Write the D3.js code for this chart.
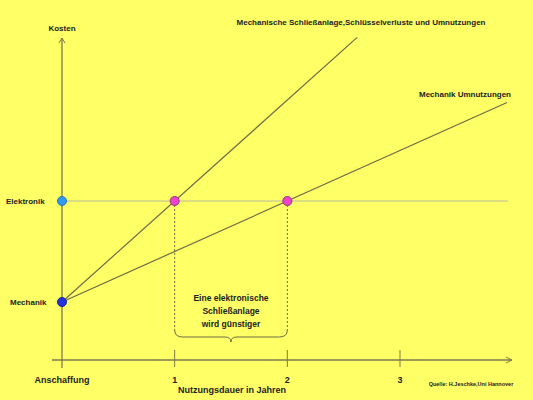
<!DOCTYPE html><html><head><meta charset="utf-8"><script src="https://cdn.jsdelivr.net/npm/d3@7"></script>
<style>body{margin:0;background:#ffff66}text{font-family:"Liberation Sans",Arial,sans-serif;font-weight:bold;fill:#222}</style></head><body><script>
const yearTicks=[0,1,2,3];
const yearLabels=["Anschaffung","1","2","3"];
const costLevels={Mechanik:0.58,Elektronik:1.59};
const seriesNames=["Mechanische Schließanlage,Schlüsselverluste und Umnutzungen","Mechanik Umnutzungen"];
const seriesSlopes=[1.01,0.505];
const seriesEnd=[2.62,3.95];
const W=533,H=400;
const x=d3.scaleLinear().domain([0,3]).range([62,400]);
const y=d3.scaleLinear().domain([0,3.22]).range([360,38]);
const svg=d3.select("body").append("svg").attr("width",W).attr("height",H);
svg.append("rect").attr("width",W).attr("height",H).attr("fill","#ffff66");
const ax="#7d7a50";
// horizontal Elektronik line
svg.append("line").attr("x1",x(0)).attr("x2",508).attr("y1",y(costLevels.Elektronik)).attr("y2",y(costLevels.Elektronik)).attr("stroke","#b8b8a0").attr("stroke-width",1);
// axes
svg.append("line").attr("x1",x(0)).attr("x2",x(0)).attr("y1",368).attr("y2",y(3.22)).attr("stroke",ax).attr("stroke-width",1.3);
svg.append("path").attr("d",`M${x(0)-3},${y(3.22)+5}L${x(0)},${y(3.22)}L${x(0)+3},${y(3.22)+5}`).attr("fill","none").attr("stroke",ax);
svg.append("line").attr("x1",52).attr("x2",512).attr("y1",y(0)).attr("y2",y(0)).attr("stroke",ax).attr("stroke-width",1.3);
svg.append("path").attr("d",`M506,${y(0)-3}L512,${y(0)}L506,${y(0)+3}`).attr("fill","none").attr("stroke",ax);
yearTicks.slice(1).forEach(t=>svg.append("line").attr("x1",x(t)).attr("x2",x(t)).attr("y1",y(0)-10).attr("y2",y(0)+7).attr("stroke",ax));
yearTicks.forEach((t,i)=>svg.append("text").attr("x",x(t)).attr("y",383).attr("text-anchor","middle").attr("font-size",9).text(yearLabels[i]));
svg.append("text").attr("x",232).attr("y",393).attr("text-anchor","middle").attr("font-size",9).text("Nutzungsdauer in Jahren");
svg.append("text").attr("x",62).attr("y",31).attr("text-anchor","middle").attr("font-size",8).text("Kosten");
svg.append("text").attr("x",471).attr("y",386).attr("text-anchor","middle").attr("font-size",5.5).text("Quelle: H.Jeschke,Uni Hannover");
// series lines
seriesSlopes.forEach((s,i)=>{
 svg.append("line").attr("x1",x(0)).attr("y1",y(costLevels.Mechanik)).attr("x2",x(seriesEnd[i])).attr("y2",y(costLevels.Mechanik+s*seriesEnd[i])).attr("stroke","#6e6c48").attr("stroke-width",1.2);
});
svg.append("text").attr("x",361).attr("y",25).attr("text-anchor","middle").attr("font-size",8).text(seriesNames[0]);
svg.append("text").attr("x",465).attr("y",97).attr("text-anchor","middle").attr("font-size",8).text(seriesNames[1]);
// intersections
const inter=seriesSlopes.map(s=>(costLevels.Elektronik-costLevels.Mechanik)/s);
inter.forEach(t=>{
 svg.append("line").attr("x1",x(t)).attr("x2",x(t)).attr("y1",y(costLevels.Elektronik)).attr("y2",330).attr("stroke","#6e6c48").attr("stroke-dasharray","2,2");
});
svg.append("path").attr("d",`M${x(inter[0])},330 Q${x(inter[0])},337 ${x(inter[0])+8},337 L${(x(inter[0])+x(inter[1]))/2-6},337 Q${(x(inter[0])+x(inter[1]))/2},337 ${(x(inter[0])+x(inter[1]))/2},342 Q${(x(inter[0])+x(inter[1]))/2},337 ${(x(inter[0])+x(inter[1]))/2+6},337 L${x(inter[1])-8},337 Q${x(inter[1])},337 ${x(inter[1])},330`).attr("fill","none").attr("stroke","#6e6c48");
["Eine elektronische","Schließanlage","wird günstiger"].forEach((l,i)=>svg.append("text").attr("x",(x(inter[0])+x(inter[1]))/2).attr("y",301+i*13).attr("text-anchor","middle").attr("font-size",8.5).text(l));
inter.forEach(t=>svg.append("circle").attr("cx",x(t)).attr("cy",y(costLevels.Elektronik)).attr("r",4.5).attr("fill","#ee44cc").attr("stroke","#a03080"));
svg.append("circle").attr("cx",x(0)).attr("cy",y(costLevels.Elektronik)).attr("r",4.5).attr("fill","#3399ee").attr("stroke","#2277bb");
svg.append("circle").attr("cx",x(0)).attr("cy",y(costLevels.Mechanik)).attr("r",4.5).attr("fill","#2233dd").attr("stroke","#1122aa");
svg.append("text").attr("x",6).attr("y",y(costLevels.Elektronik)+3).attr("font-size",8).text("Elektronik");
svg.append("text").attr("x",10).attr("y",y(costLevels.Mechanik)+3).attr("font-size",8).text("Mechanik");
</script></body></html>
